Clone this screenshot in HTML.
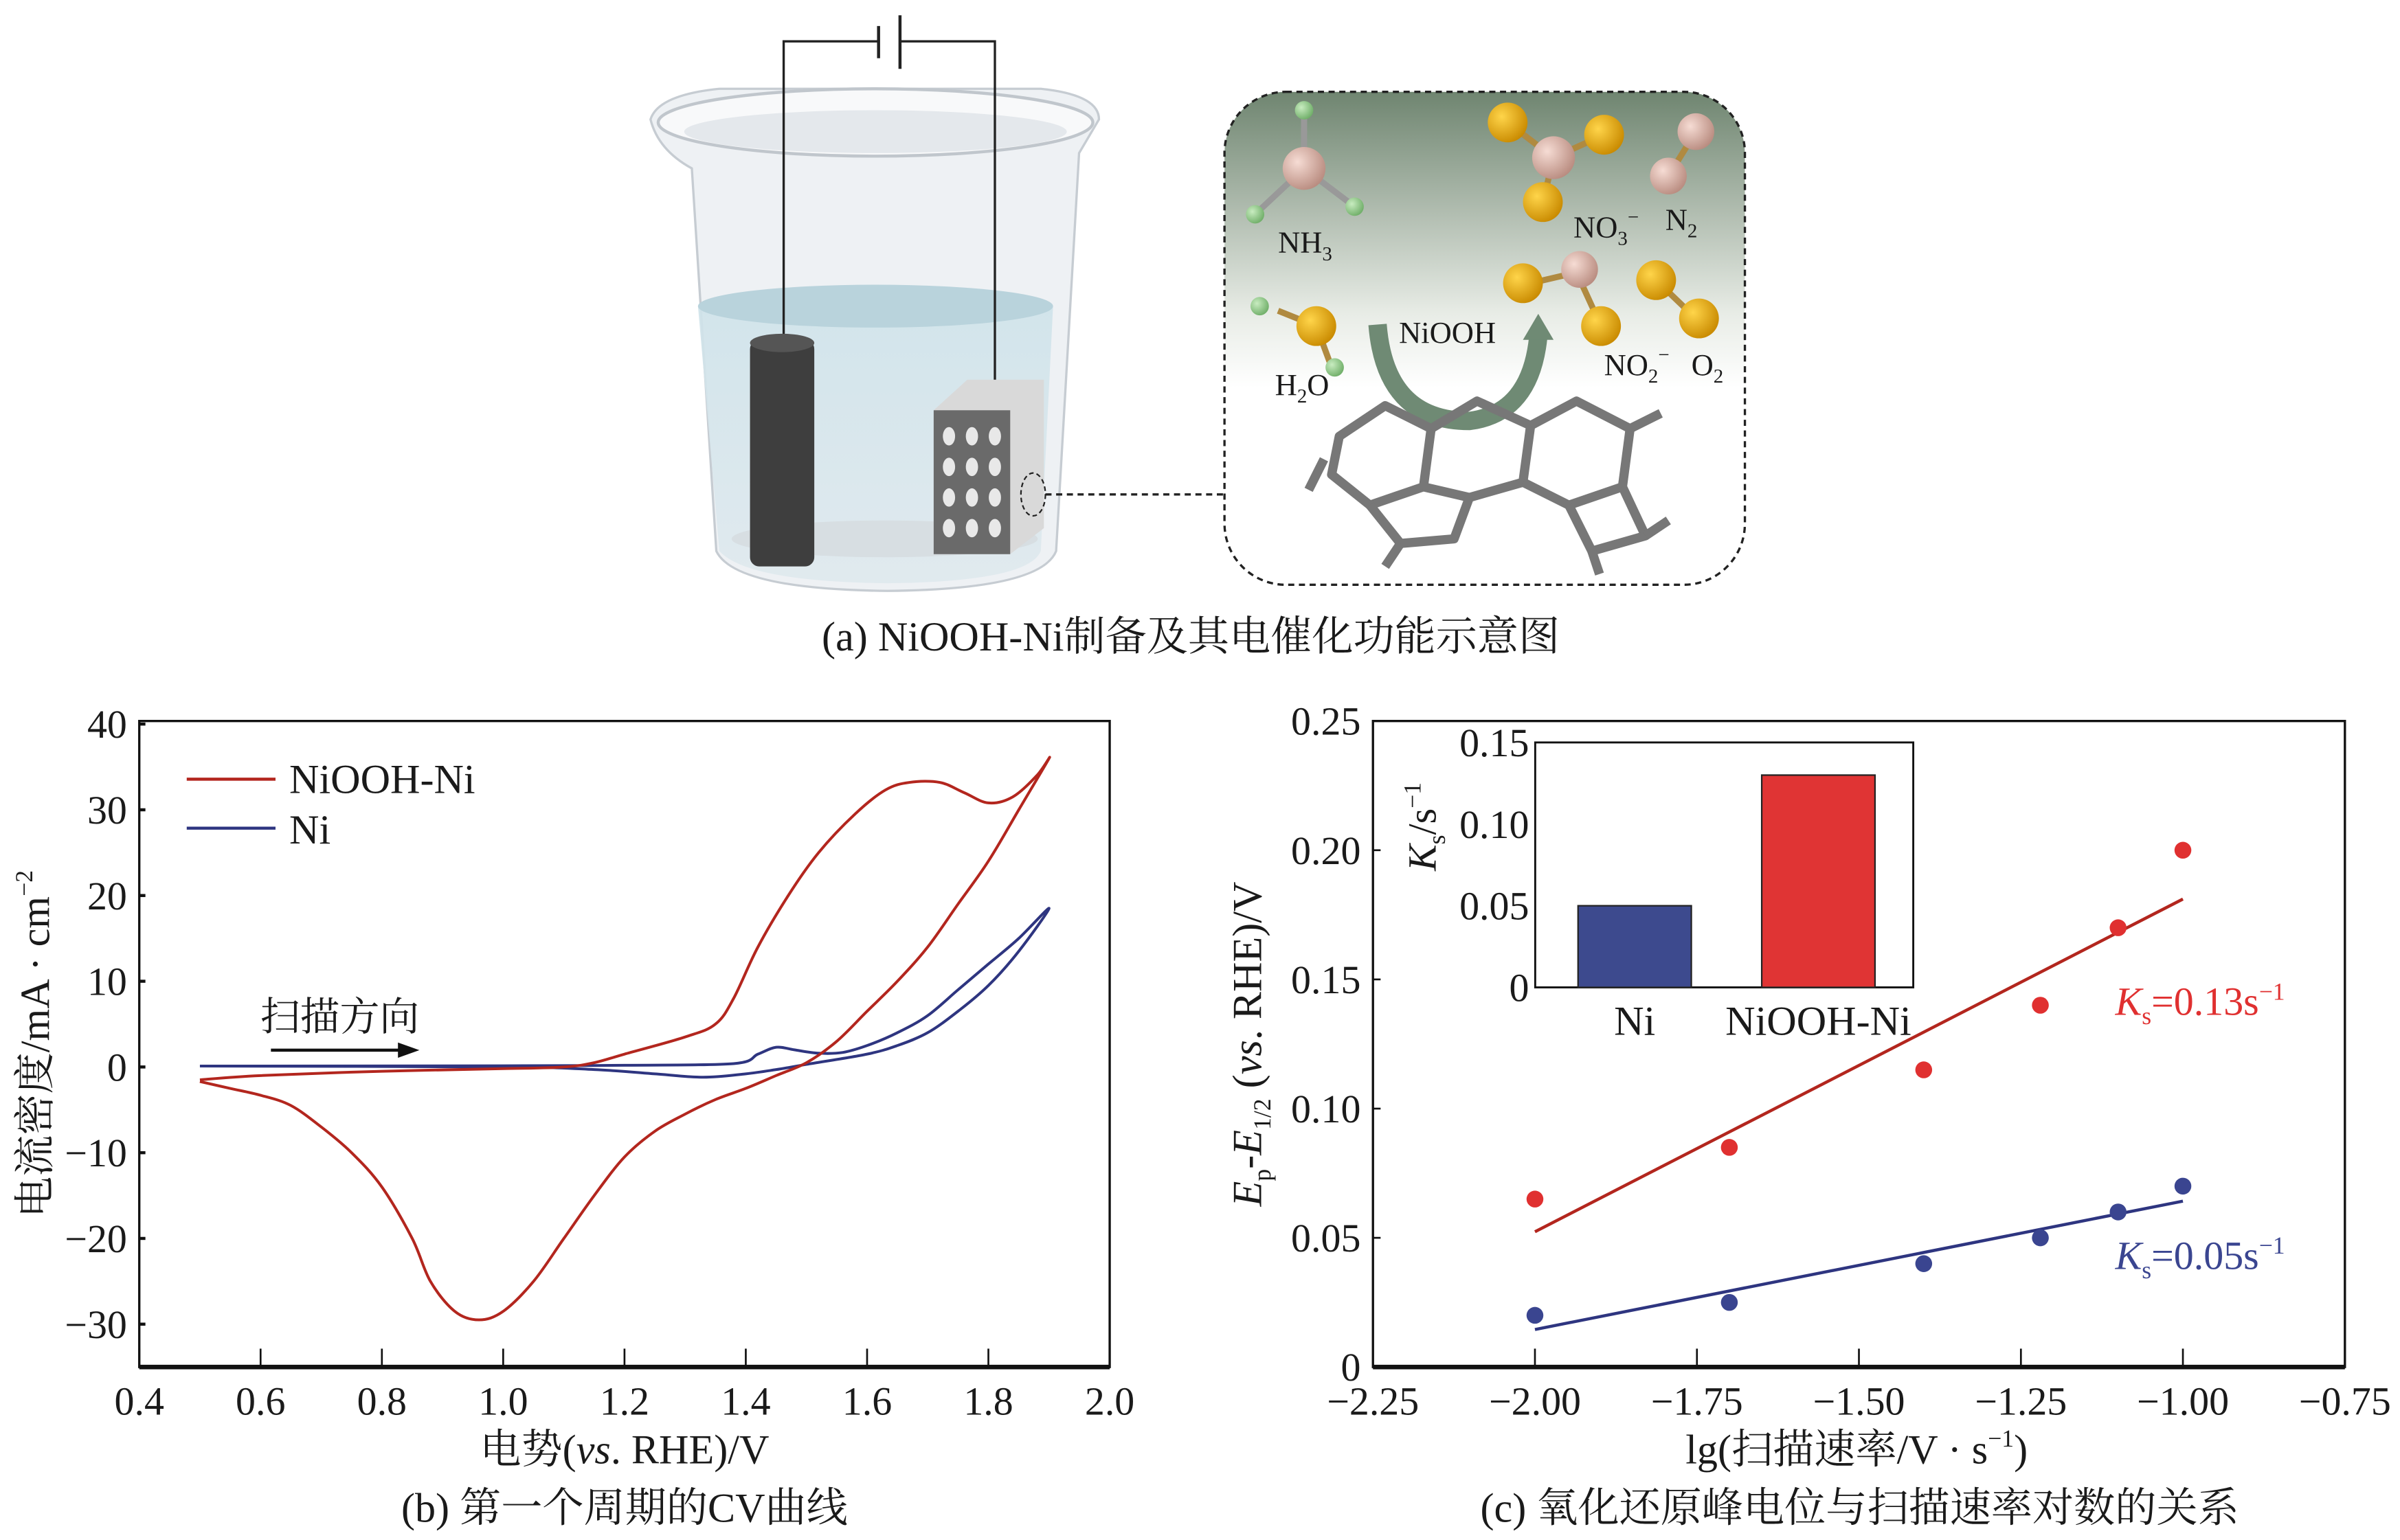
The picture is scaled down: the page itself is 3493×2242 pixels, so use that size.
<!DOCTYPE html>
<html><head><meta charset="utf-8"><style>
html,body{margin:0;padding:0;background:#fff;}
svg{display:block;}
text{font-family:"Liberation Serif","Noto Serif CJK SC",serif;fill:#1a1a1a;}
</style></head><body>
<svg id="fig" width="3493" height="2242" viewBox="0 0 1568 1006" preserveAspectRatio="none" xmlns="http://www.w3.org/2000/svg">
<defs>
<linearGradient id="insetBg" x1="0" y1="0" x2="0" y2="1"><stop offset="0" stop-color="#6f8570"/><stop offset="0.45" stop-color="#e8ece6"/><stop offset="0.6" stop-color="#ffffff"/><stop offset="1" stop-color="#ffffff"/></linearGradient>
<linearGradient id="water" x1="0" y1="0" x2="0" y2="1"><stop offset="0" stop-color="#cfe3ea"/><stop offset="1" stop-color="#dfe9ee"/></linearGradient>
<radialGradient id="gold" cx="0.35" cy="0.35" r="0.7"><stop offset="0" stop-color="#ffd54a"/><stop offset="1" stop-color="#c98a00"/></radialGradient>
<radialGradient id="pink" cx="0.35" cy="0.35" r="0.7"><stop offset="0" stop-color="#f6dcd4"/><stop offset="1" stop-color="#b98c80"/></radialGradient>
<radialGradient id="green" cx="0.35" cy="0.35" r="0.7"><stop offset="0" stop-color="#c8ecc0"/><stop offset="1" stop-color="#6fae68"/></radialGradient>
</defs>

<g>
  <path d="M425,78 Q430,62 470,58 L680,58 Q718,62 718,78 L705,100 L690,360 Q680,385 580,386 Q480,385 468,360 L452,110 Q430,98 425,78 Z" fill="#eef1f4" stroke="#c6ccd2" stroke-width="1.5"/>
  <ellipse cx="572" cy="80" rx="142" ry="22" fill="#f8f9fa" stroke="#c0c6cc" stroke-width="2"/>
  <ellipse cx="572" cy="86" rx="125" ry="14" fill="#e4e8ec"/>
  <path d="M456,200 L688,200 L680,360 Q672,380 580,381 Q488,380 470,360 Z" fill="url(#water)" opacity="0.9"/>
  <ellipse cx="572" cy="200" rx="116" ry="14" fill="#b9d3dc"/>
  <ellipse cx="578" cy="352" rx="100" ry="12" fill="#d7dee2"/>
  <path d="M512,225 L512,27 L574,27 M588,27 L650,27 L650,250" fill="none" stroke="#222" stroke-width="1.5"/>
  <line x1="574" y1="17" x2="574" y2="38" stroke="#222" stroke-width="2"/>
  <line x1="588" y1="10" x2="588" y2="45" stroke="#222" stroke-width="2"/>
  <rect x="490" y="222" width="42" height="148" rx="6" fill="#3e3e3e"/>
  <ellipse cx="511" cy="224" rx="21" ry="6" fill="#555"/>
  <path d="M610,268 L632,248 L682,248 L682,345 L660,362 L610,362 Z" fill="#d9d9d9"/>
  <rect x="610" y="268" width="50" height="94" fill="#6a6a6a"/>
  <g fill="#e8e8e8">
    <ellipse cx="620" cy="285" rx="4" ry="6"/><ellipse cx="635" cy="285" rx="4" ry="6"/><ellipse cx="650" cy="285" rx="4" ry="6"/>
    <ellipse cx="620" cy="305" rx="4" ry="6"/><ellipse cx="635" cy="305" rx="4" ry="6"/><ellipse cx="650" cy="305" rx="4" ry="6"/>
    <ellipse cx="620" cy="325" rx="4" ry="6"/><ellipse cx="635" cy="325" rx="4" ry="6"/><ellipse cx="650" cy="325" rx="4" ry="6"/>
    <ellipse cx="620" cy="345" rx="4" ry="6"/><ellipse cx="635" cy="345" rx="4" ry="6"/><ellipse cx="650" cy="345" rx="4" ry="6"/>
  </g>
  <ellipse cx="675" cy="323" rx="8" ry="14" fill="none" stroke="#222" stroke-dasharray="3,2"/>
  <line x1="683" y1="323" x2="800" y2="323" stroke="#222" stroke-width="1.5" stroke-dasharray="4,3"/>
</g>
<g>
  <rect x="800" y="60" width="340" height="322" rx="40" fill="url(#insetBg)" stroke="#222" stroke-width="1.5" stroke-dasharray="4,3"/>
  <g stroke="#999" stroke-width="4"><line x1="852" y1="72" x2="852" y2="110"/><line x1="852" y1="110" x2="820" y2="140"/><line x1="852" y1="110" x2="885" y2="135"/></g>
  <circle cx="852" cy="72" r="6" fill="url(#green)"/><circle cx="820" cy="140" r="6" fill="url(#green)"/><circle cx="885" cy="135" r="6" fill="url(#green)"/>
  <circle cx="852" cy="110" r="14" fill="url(#pink)"/>
  <g stroke="#b08a40" stroke-width="4"><line x1="985" y1="80" x2="1015" y2="103"/><line x1="1015" y1="103" x2="1048" y2="88"/><line x1="1015" y1="103" x2="1008" y2="132"/><line x1="1108" y1="86" x2="1090" y2="115"/><line x1="835" y1="203" x2="860" y2="213"/><line x1="860" y1="213" x2="870" y2="240"/><line x1="1000" y1="185" x2="1030" y2="178"/><line x1="1030" y1="178" x2="1046" y2="213"/><line x1="1082" y1="183" x2="1108" y2="208"/></g>
  <circle cx="985" cy="80" r="13" fill="url(#gold)"/><circle cx="1048" cy="88" r="13" fill="url(#gold)"/><circle cx="1008" cy="132" r="13" fill="url(#gold)"/><circle cx="1015" cy="103" r="14" fill="url(#pink)"/>
  <circle cx="1108" cy="86" r="12" fill="url(#pink)"/><circle cx="1090" cy="115" r="12" fill="url(#pink)"/>
  <circle cx="823" cy="200" r="6" fill="url(#green)"/><circle cx="860" cy="213" r="13" fill="url(#gold)"/><circle cx="872" cy="240" r="6" fill="url(#green)"/>
  <circle cx="995" cy="185" r="13" fill="url(#gold)"/><circle cx="1032" cy="176" r="12" fill="url(#pink)"/><circle cx="1046" cy="213" r="13" fill="url(#gold)"/>
  <circle cx="1082" cy="183" r="13" fill="url(#gold)"/><circle cx="1110" cy="208" r="13" fill="url(#gold)"/>
  <path d="M900,212 Q905,275 960,275 Q1000,270 1005,220" fill="none" stroke="#6f8a74" stroke-width="12"/>
  <path d="M995,222 L1005,205 L1015,222 Z" fill="#6f8a74"/>
  <g fill="none" stroke="#777" stroke-width="6" stroke-linejoin="round">
    <path d="M875,285 L905,265 L935,280 L930,318 L895,330 L870,310 Z"/><path d="M935,280 L965,262 L1000,278 L995,315 L960,325 L930,318"/>
    <path d="M1000,278 L1030,262 L1065,280 L1060,318 L1025,330 L995,315"/><path d="M895,330 L915,355 L950,352 L960,325"/>
    <path d="M1025,330 L1040,360 L1075,350 L1060,318"/><path d="M865,300 L855,320 M1065,280 L1085,270 M1075,350 L1090,340 M915,355 L905,370 M1040,360 L1045,375"/>
  </g>
  <text x="835" y="165" font-size="20">NH<tspan font-size="13" dy="5">3</tspan></text>
  <text x="1028" y="155" font-size="20">NO<tspan font-size="13" dy="5">3</tspan><tspan font-size="13" dy="-14">−</tspan></text>
  <text x="1088" y="150" font-size="20">N<tspan font-size="13" dy="5">2</tspan></text>
  <text x="914" y="224" font-size="20">NiOOH</text>
  <text x="833" y="258" font-size="20">H<tspan font-size="13" dy="5">2</tspan><tspan dy="-5">O</tspan></text>
  <text x="1048" y="245" font-size="20">NO<tspan font-size="13" dy="5">2</tspan><tspan font-size="13" dy="-14">−</tspan></text>
  <text x="1105" y="245" font-size="20">O<tspan font-size="13" dy="5">2</tspan></text>
</g>
<text x="778" y="425" font-size="27" text-anchor="middle">(a) NiOOH-Ni制备及其电催化功能示意图</text>

<g id="pb"></g>
<g id="pc"></g>
</svg>
<script>
// ---- Panel b data ----
const cvXTicks = [0.4,0.6,0.8,1.0,1.2,1.4,1.6,1.8,2.0];
const cvXTickLabels = ["0.4","0.6","0.8","1.0","1.2","1.4","1.6","1.8","2.0"];
const cvYTicks = [40,30,20,10,0,-10,-20,-30];
const cvYTickLabels = ["40","30","20","10","0","−10","−20","−30"];
const redV = [0.5,0.6,0.8,1.0,1.1,1.15,1.2,1.3,1.35,1.38,1.42,1.47,1.52,1.58,1.63,1.67,1.72,1.76,1.8,1.84,1.88,1.9,1.85,1.8,1.75,1.7,1.65,1.6,1.55,1.5,1.45,1.4,1.35,1.3,1.25,1.2,1.15,1.1,1.05,1.0,0.96,0.92,0.88,0.85,0.8,0.75,0.7,0.65,0.6,0.55,0.5];
const redJ = [-1.5,-1.0,-0.5,-0.2,0,0.5,1.5,3.5,5,8,14,20,25,29.5,32.3,33.2,33.2,32,30.8,31.5,34,36,30,24,19,14,10,6.5,3,0.5,-1,-2.5,-3.8,-5.5,-7.5,-10.5,-15,-20,-25,-28.5,-29.5,-28.5,-25,-20,-14,-10,-7,-4.5,-3.3,-2.5,-1.7];
const blueV = [0.5,1.0,1.2,1.38,1.42,1.45,1.48,1.52,1.56,1.6,1.65,1.7,1.75,1.8,1.85,1.9,1.85,1.8,1.75,1.7,1.65,1.6,1.5,1.45,1.4,1.33,1.25,1.15,1.0,0.5];
const blueJ = [0.1,0.15,0.2,0.4,1.5,2.3,2,1.6,1.7,2.5,4,6,9,12,15,18.5,13.5,9.5,6.5,4,2.5,1.5,0.3,-0.3,-0.8,-1.2,-0.8,-0.3,0,0.1];
// ---- Panel c data ----
const lgRate = [-2.0,-1.7,-1.4,-1.22,-1.1,-1.0];
const dEred = [0.065,0.085,0.115,0.14,0.17,0.2];
const dEblue = [0.02,0.025,0.04,0.05,0.06,0.07];
const kcXTicks = [-2.25,-2.0,-1.75,-1.5,-1.25,-1.0,-0.75];
const kcXTickLabels = ["−2.25","−2.00","−1.75","−1.50","−1.25","−1.00","−0.75"];
const kcYTicks = [0.25,0.2,0.15,0.1,0.05,0];
const kcYTickLabels = ["0.25","0.20","0.15","0.10","0.05","0"];
const barCats = ["Ni","NiOOH-Ni"];
const barVals = [0.05,0.13];
const barYTicks = [0.15,0.1,0.05,0];
const barYTickLabels = ["0.15","0.10","0.05","0"];

const NS="http://www.w3.org/2000/svg";
function mk(parent,tag,attrs,txt){const e=document.createElementNS(NS,tag);for(const k in attrs)e.setAttribute(k,attrs[k]);if(txt!==undefined)e.textContent=txt;parent.appendChild(e);return e;}
function smooth(xs,ys,fx,fy){
  const P=xs.map((x,i)=>[fx(x),fy(ys[i])]);
  let d='M'+P[0][0].toFixed(1)+','+P[0][1].toFixed(1);
  for(let i=0;i<P.length-1;i++){
    const p0=P[Math.max(0,i-1)],p1=P[i],p2=P[i+1],p3=P[Math.min(P.length-1,i+2)];
    const c1=[p1[0]+(p2[0]-p0[0])/6,p1[1]+(p2[1]-p0[1])/6];
    const c2=[p2[0]-(p3[0]-p1[0])/6,p2[1]-(p3[1]-p1[1])/6];
    d+=' C'+c1[0].toFixed(1)+','+c1[1].toFixed(1)+' '+c2[0].toFixed(1)+','+c2[1].toFixed(1)+' '+p2[0].toFixed(1)+','+p2[1].toFixed(1);
  }
  return d;
}
const FS=26;

// Panel b
const pb=document.getElementById('pb');
const bx0=91,bx1=725,by0=471,by1=893;
const bxs=v=>bx0+(v-0.4)/(2.0-0.4)*(bx1-bx0);
const bys=j=>697-j*5.6;
let r=mk(pb,'rect',{x:bx0,y:by0,width:bx1-bx0,height:by1-by0,fill:'none',stroke:'#111','stroke-width':1.5});


mk(pb,'line',{x1:bx0,y1:by1,x2:bx1,y2:by1,stroke:'#111','stroke-width':3});
cvXTicks.forEach((v,i)=>{
  mk(pb,'line',{x1:bxs(v),y1:by1,x2:bxs(v),y2:by1-12,stroke:'#111','stroke-width':1.2});
  const t=mk(pb,'text',{x:bxs(v),y:by1+31,'font-size':FS,'text-anchor':'middle'},cvXTickLabels[i]);
  
  
});
cvYTicks.forEach((v,i)=>{
  mk(pb,'line',{x1:bx0,y1:bys(v),x2:bx0+4,y2:bys(v),stroke:'#111','stroke-width':2});
  const t=mk(pb,'text',{x:bx0-8,y:bys(v)+9,'font-size':FS,'text-anchor':'end'},cvYTickLabels[i]);
  
  
});
let p=mk(pb,'path',{d:smooth(blueV,blueJ,bxs,bys),fill:'none',stroke:'#2e3580','stroke-width':1.8,'stroke-linejoin':'round'});


p=mk(pb,'path',{d:smooth(redV,redJ,bxs,bys),fill:'none',stroke:'#b3261e','stroke-width':1.8,'stroke-linejoin':'round'});


mk(pb,'line',{x1:122,y1:509,x2:180,y2:509,stroke:'#b3261e','stroke-width':2});
let t=mk(pb,'text',{x:189,y:518,'font-size':27},'NiOOH-Ni');


mk(pb,'line',{x1:122,y1:541,x2:180,y2:541,stroke:'#2e3580','stroke-width':2});
t=mk(pb,'text',{x:189,y:551,'font-size':27},'Ni');


t=mk(pb,'text',{x:170,y:673,'font-size':26},'扫描方向');


mk(pb,'line',{x1:177,y1:686,x2:262,y2:686,stroke:'#111','stroke-width':2});
mk(pb,'path',{d:'M274,686 L260,681 L260,691 Z',fill:'#111'});
t=mk(pb,'text',{x:408,y:956,'font-size':27,'text-anchor':'middle'});
t.innerHTML='电势(<tspan font-style="italic">vs</tspan>. RHE)/V';


t=mk(pb,'text',{x:0,y:0,'font-size':27,'text-anchor':'middle',transform:'translate(32,682) rotate(-90)'});
t.innerHTML='电流密度/mA · cm<tspan font-size="16" dy="-11">−2</tspan>';


t=mk(pb,'text',{x:408,y:994,'font-size':27,'text-anchor':'middle'},'(b) 第一个周期的CV曲线');



// Panel c
const pc=document.getElementById('pc');
const cx0=897,cx1=1532,cy0=471,cy1=893;
const cxs=v=>cx0+(v+2.25)/1.5*(cx1-cx0);
const cys=v=>cy1-v/0.25*(cy1-cy0);
r=mk(pc,'rect',{x:cx0,y:cy0,width:cx1-cx0,height:cy1-cy0,fill:'none',stroke:'#111','stroke-width':1.5});


mk(pc,'line',{x1:cx0,y1:cy1,x2:cx1,y2:cy1,stroke:'#111','stroke-width':3});
kcXTicks.forEach((v,i)=>{
  if(i>0&&i<kcXTicks.length-1) mk(pc,'line',{x1:cxs(v),y1:cy1,x2:cxs(v),y2:cy1-12,stroke:'#111','stroke-width':1.2});
  const tt=mk(pc,'text',{x:cxs(v),y:cy1+31,'font-size':FS,'text-anchor':'middle'},kcXTickLabels[i]);
  
  
});
kcYTicks.forEach((v,i)=>{
  mk(pc,'line',{x1:cx0,y1:cys(v),x2:cx0+5,y2:cys(v),stroke:'#111','stroke-width':1.2});
  const tt=mk(pc,'text',{x:cx0-8,y:cys(v)+9,'font-size':FS,'text-anchor':'end'},kcYTickLabels[i]);
  
  
});
function fit(xs,ys){const n=xs.length,mx=xs.reduce((a,b)=>a+b)/n,my=ys.reduce((a,b)=>a+b)/n;let sxy=0,sxx=0;xs.forEach((x,i)=>{sxy+=(x-mx)*(ys[i]-my);sxx+=(x-mx)*(x-mx);});const m=sxy/sxx;return x=>my+m*(x-mx);}
[[dEred,'#b3261e','#e03030','niooh-ni'],[dEblue,'#2e3580','#3a4590','ni']].forEach(([ys,lc,pcol,nm])=>{
  const f=fit(lgRate,ys);const xa=lgRate[0],xb=lgRate[lgRate.length-1];
  const l=mk(pc,'line',{x1:cxs(xa),y1:cys(f(xa)),x2:cxs(xb),y2:cys(f(xb)),stroke:lc,'stroke-width':2});
  
  
  ys.forEach((v,i)=>{
    const c=mk(pc,'circle',{cx:cxs(lgRate[i]),cy:cys(v),r:5.5,fill:pcol});
    
    
  });
});
t=mk(pc,'text',{x:1382,y:663,'font-size':26,fill:'#e03030'});
t.innerHTML='<tspan font-style="italic" fill="#e03030">K</tspan><tspan font-size="16" dy="6" fill="#e03030">s</tspan><tspan dy="-6" fill="#e03030">=0.13s</tspan><tspan font-size="16" dy="-10" fill="#e03030">−1</tspan>';


t=mk(pc,'text',{x:1382,y:829,'font-size':26,fill:'#3a4590'});
t.innerHTML='<tspan font-style="italic" fill="#3a4590">K</tspan><tspan font-size="16" dy="6" fill="#3a4590">s</tspan><tspan dy="-6" fill="#3a4590">=0.05s</tspan><tspan font-size="16" dy="-10" fill="#3a4590">−1</tspan>';


const ix0=1003,ix1=1250,iy0=485,iy1=645;
const iys=v=>iy1-v/0.15*(iy1-iy0);
r=mk(pc,'rect',{x:ix0,y:iy0,width:ix1-ix0,height:iy1-iy0,fill:'#fff',stroke:'#111','stroke-width':1.3});


const barCenters=[1068,1188],barW=74,barCols=['#3d4a8e','#e03434'];
barCats.forEach((c,i)=>{
  const b=mk(pc,'rect',{x:barCenters[i]-barW/2,y:iys(barVals[i]),width:barW,height:iy1-iys(barVals[i]),fill:barCols[i],stroke:'#222','stroke-width':1});
  
  
  const tt=mk(pc,'text',{x:barCenters[i],y:iy1+31,'font-size':27,'text-anchor':'middle'},c);
  
  
});
barYTicks.forEach((v,i)=>{
  const tt=mk(pc,'text',{x:ix0-4,y:iys(v)+9,'font-size':FS,'text-anchor':'end'},barYTickLabels[i]);
  
  
});
t=mk(pc,'text',{x:0,y:0,'font-size':26,'text-anchor':'middle',transform:'translate(938,540) rotate(-90)'});
t.innerHTML='<tspan font-style="italic">K</tspan><tspan font-size="16" dy="6">s</tspan><tspan dy="-6">/s</tspan><tspan font-size="16" dy="-10">−1</tspan>';


t=mk(pc,'text',{x:0,y:0,'font-size':27,'text-anchor':'middle',transform:'translate(824,682) rotate(-90)'});
t.innerHTML='<tspan font-style="italic">E</tspan><tspan font-size="16" dy="6">p</tspan><tspan dy="-6">-</tspan><tspan font-style="italic">E</tspan><tspan font-size="16" dy="6">1/2</tspan><tspan dy="-6"> (</tspan><tspan font-style="italic">vs</tspan>. RHE)/V';


t=mk(pc,'text',{x:1213,y:956,'font-size':27,'text-anchor':'middle'});
t.innerHTML='lg(扫描速率/V · s<tspan font-size="16" dy="-11">−1</tspan><tspan dy="11">)</tspan>';


t=mk(pc,'text',{x:1215,y:994,'font-size':27,'text-anchor':'middle'},'(c) 氧化还原峰电位与扫描速率对数的关系');


</script>
</body></html>
